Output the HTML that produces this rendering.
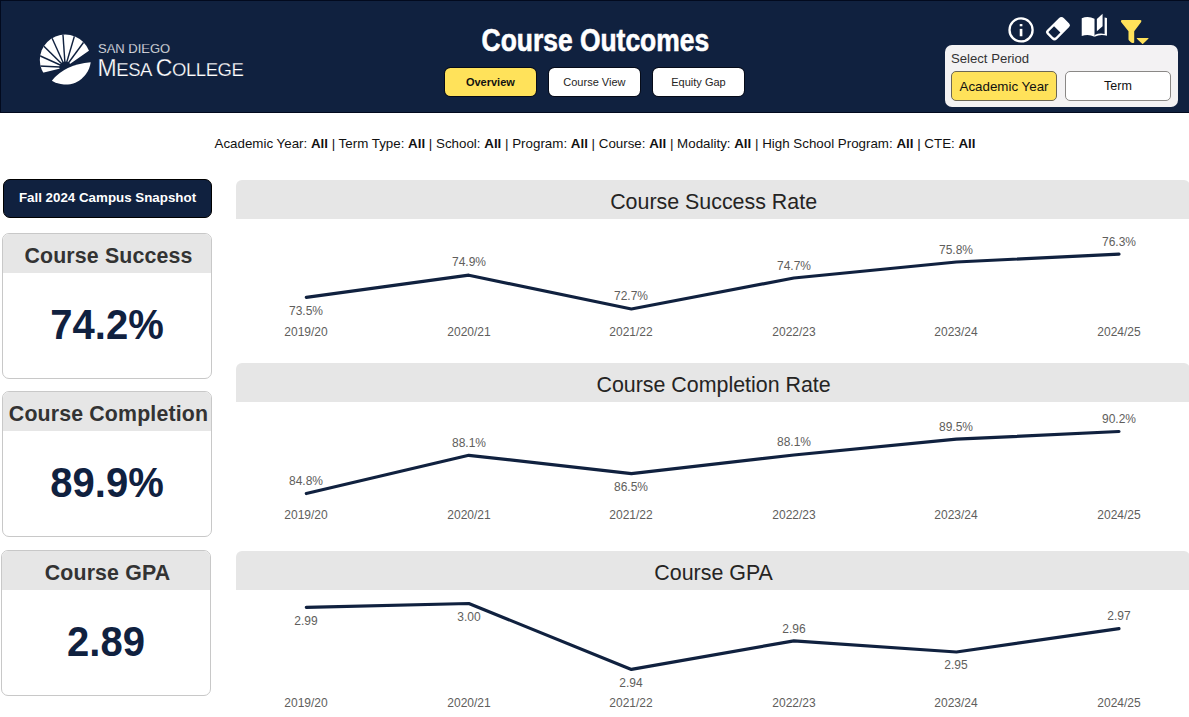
<!DOCTYPE html>
<html>
<head>
<meta charset="utf-8">
<title>Course Outcomes</title>
<style>
html,body{margin:0;padding:0;}
body{width:1189px;height:717px;position:relative;overflow:hidden;background:#fff;font-family:"Liberation Sans",sans-serif;color:#252423;}
.abs{position:absolute;}
#hdr{left:0;top:0;width:1189px;height:113px;background:#10213f;box-sizing:border-box;border:1px solid #020a1e;border-right:none;}
#title{left:445px;top:21px;width:300px;text-align:center;color:#fff;font-weight:bold;font-size:30.5px;line-height:38px;white-space:nowrap;}
#title span{display:inline-block;transform-origin:50% 50%;transform:scaleX(0.866);-webkit-text-stroke:0.6px #fff;}
.nav{top:67.7px;width:91.6px;height:28.6px;box-sizing:border-box;box-shadow:0 0 0 1px #060b18;border-radius:5.5px;background:#fff;color:#252423;font-size:11px;line-height:29.6px;text-align:center;}
.nav.on{background:#ffe25a;font-weight:bold;color:#111;}
#period{left:945px;top:45px;width:233px;height:62px;background:#f3f2f3;border-radius:7px;}
#period .lbl{left:6px;top:6px;font-size:13.15px;line-height:16px;color:#333;white-space:nowrap;}
.pbtn{top:26px;height:30px;box-sizing:border-box;border:1px solid #8a8886;border-radius:5px;background:#fff;font-size:14px;line-height:28px;text-align:center;color:#111;white-space:nowrap;}
.pbtn.on{background:#ffe25a;border-color:#6b6654;}
#filters{left:0.5px;top:136px;width:1189px;text-align:center;font-size:13.35px;line-height:16px;color:#111;white-space:nowrap;}
#snap{left:3px;top:179px;width:209px;height:39px;box-sizing:border-box;background:#10213f;border:1px solid #000;border-radius:7px;color:#fff;font-weight:bold;font-size:13.35px;line-height:35px;text-align:center;white-space:nowrap;}
.card{left:2px;width:210px;height:146px;box-sizing:border-box;border:1px solid #c8c8c8;border-radius:7px;background:#fff;overflow:hidden;}
.card .h{left:0;top:0;width:100%;box-sizing:border-box;padding-left:3px;height:39px;background:#e6e6e6;text-align:center;font-weight:bold;font-size:21.33px;line-height:45px;color:#333;white-space:nowrap;letter-spacing:0.15px;}
.card .v{left:0;top:39px;width:100%;height:105px;text-align:center;font-weight:bold;font-size:40px;line-height:105px;color:#10213f;white-space:nowrap;}
.card .v span{display:inline-block;transform:scaleY(1.04);transform-origin:50% 74%;}
.ch{left:236px;width:954px;height:39px;background:#e6e6e6;border-radius:6px 6px 0 0;text-align:center;font-size:21.4px;line-height:44px;color:#252423;box-sizing:border-box;padding-left:1.2px;white-space:nowrap;}
.lg{color:#fff;white-space:nowrap;-webkit-text-stroke:0.25px #10213f;}
svg text{font-family:"Liberation Sans",sans-serif;}
</style>
</head>
<body>
<div id="hdr" class="abs"></div>

<!-- logo -->
<svg class="abs" style="left:34px;top:28px" width="70" height="64" viewBox="0 0 784 717">
  <defs>
    <clipPath id="cc"><circle cx="350" cy="358" r="285"/></clipPath>
  </defs>
  <g clip-path="url(#cc)">
    <path d="M350,440 L100,500 L-200,560 L-200,-200 L900,-200 L900,60 L615,255 Z" fill="#fff"/>
    <g stroke="#10213f" stroke-width="16" stroke-linecap="butt">
      <line x1="350" y1="440" x2="20" y2="424"/>
      <line x1="350" y1="440" x2="20" y2="290"/>
      <line x1="350" y1="440" x2="60" y2="155"/>
      <line x1="350" y1="440" x2="180" y2="65"/>
      <line x1="350" y1="440" x2="322" y2="40"/>
      <line x1="350" y1="440" x2="462" y2="60"/>
      <line x1="350" y1="440" x2="585" y2="120"/>
    </g>
    <circle cx="350" cy="440" r="66" fill="#10213f"/>
  </g>
  <path d="M200,590 Q350,408 635,385 A285,285 0 0 1 200,590 Z" fill="#fff"/>
</svg>
<div class="abs lg" style="left:98px;top:42px;font-size:13px;line-height:14px;">SAN DIEGO</div>
<div class="abs lg" style="left:97.5px;top:55px;font-size:18.5px;line-height:26px;letter-spacing:-0.42px;"><span style="font-size:23px">M</span>ESA <span style="font-size:23px">C</span>OLLEGE</div>

<div id="title" class="abs"><span>Course Outcomes</span></div>
<div class="abs nav on" style="left:444.6px">Overview</div>
<div class="abs nav" style="left:548.6px">Course View</div>
<div class="abs nav" style="left:652.7px">Equity Gap</div>

<!-- icons -->
<svg class="abs" style="left:1003px;top:10px" width="72" height="40" viewBox="0 0 1189 661">
  <circle cx="298" cy="329" r="191" fill="none" stroke="#fff" stroke-width="38"/>
  <rect x="276" y="232" width="44" height="37" fill="#fff"/>
  <rect x="276" y="312" width="44" height="122" fill="#fff"/>
  <g transform="translate(907.5,309) rotate(-45)">
    <path d="M-150.5,-111.5 L132.5,-111.5 A60,60 0 0 1 192.5,-51.5 L192.5,69.5 A42,42 0 0 1 150.5,111.5 L-132.5,111.5 A60,60 0 0 1 -192.5,51.5 L-192.5,-69.5 A42,42 0 0 1 -150.5,-111.5 Z" fill="#fff"/>
    <path d="M-16.5,-73.5 L-139.5,-73.5 Q-154.5,-73.5 -154.5,-58.5 L-154.5,38.5 Q-154.5,73.5 -119.5,73.5 L-16.5,73.5 Z" fill="#10213f"/>
  </g>
</svg>
<svg class="abs" style="left:1075px;top:8px" width="80" height="44" viewBox="0 0 1189 654">
  <path d="M100,152 Q195,112 290,160 L290,427 Q195,380 100,418 Z" fill="#fff"/>
  <path d="M290,400 Q370,366 440,386 L440,140 L475,150 L475,414 Q385,380 290,427 Z" fill="#fff"/>
  <path d="M325,165 L410,85 L410,270 L325,345 Z" fill="#fff"/>
  <path d="M702,180 L968,180 Q998,182 981,210 L880,347 L880,512 Q852,532 830,510 L803,483 Q795,475 795,460 L795,347 L688,210 Q670,182 702,180 Z" fill="#ffe25a"/>
  <path d="M922,447 L1088,447 Q1098,448 1090,458 L1012,532 Q1005,538 998,532 L920,458 Q912,448 922,447 Z" fill="#ffe25a"/>
</svg>

<div id="period" class="abs">
  <div class="abs lbl">Select Period</div>
  <div class="abs pbtn on" style="left:6px;width:106px;font-size:13.35px;line-height:29px">Academic Year</div>
  <div class="abs pbtn" style="left:120px;width:106px;font-size:12.5px;line-height:28px">Term</div>
</div>

<div id="filters" class="abs">Academic Year: <b>All</b> | Term Type: <b>All</b> | School: <b>All</b> | Program: <b>All</b> | Course: <b>All</b> | Modality: <b>All</b> | High School Program: <b>All</b> | CTE: <b>All</b></div>

<div id="snap" class="abs">Fall 2024 Campus Snapshot</div>

<div class="abs card" style="top:233px"><div class="abs h">Course Success</div><div class="abs v"><span>74.2%</span></div></div>
<div class="abs card" style="top:391px"><div class="abs h">Course Completion</div><div class="abs v"><span>89.9%</span></div></div>
<div class="abs card" style="top:550px;left:1px"><div class="abs h">Course GPA</div><div class="abs v"><span>2.89</span></div></div>

<div class="abs ch" style="top:180px">Course Success Rate</div>
<div class="abs ch" style="top:363px">Course Completion Rate</div>
<div class="abs ch" style="top:551px">Course GPA</div>

<svg class="abs" style="left:0;top:0" width="1189" height="717" viewBox="0 0 1189 717">
  <g fill="none" stroke="#10213f" stroke-width="3.2" stroke-linejoin="round" stroke-linecap="round">
    <polyline points="306.3,297.3 468.8,275.2 631.4,309 793.9,278 956.4,262 1119,254.1"/>
    <polyline points="306.3,493.5 468.8,455.3 631.4,473.6 793.9,455 956.4,439.2 1119,431.5"/>
    <polyline points="306.3,607.3 468.8,603.5 631.4,669.4 793.9,640.9 956.4,652 1119,628.7"/>
  </g>
  <g font-size="12" fill="#605e5c" text-anchor="middle">
    <text x="306" y="315">73.5%</text>
    <text x="469" y="266">74.9%</text>
    <text x="631" y="300">72.7%</text>
    <text x="794" y="270">74.7%</text>
    <text x="956" y="254">75.8%</text>
    <text x="1119" y="246">76.3%</text>

    <text x="306" y="485">84.8%</text>
    <text x="469" y="447">88.1%</text>
    <text x="631" y="491">86.5%</text>
    <text x="794" y="446">88.1%</text>
    <text x="956" y="431">89.5%</text>
    <text x="1119" y="423">90.2%</text>

    <text x="306" y="625">2.99</text>
    <text x="469" y="621">3.00</text>
    <text x="631" y="687">2.94</text>
    <text x="794" y="633">2.96</text>
    <text x="956" y="669">2.95</text>
    <text x="1119" y="620">2.97</text>
  </g>
  <g font-size="12" fill="#605e5c" text-anchor="middle">
    <text x="306" y="336">2019/20</text><text x="469" y="336">2020/21</text><text x="631" y="336">2021/22</text><text x="794" y="336">2022/23</text><text x="956" y="336">2023/24</text><text x="1119" y="336">2024/25</text>
    <text x="306" y="519">2019/20</text><text x="469" y="519">2020/21</text><text x="631" y="519">2021/22</text><text x="794" y="519">2022/23</text><text x="956" y="519">2023/24</text><text x="1119" y="519">2024/25</text>
    <text x="306" y="707">2019/20</text><text x="469" y="707">2020/21</text><text x="631" y="707">2021/22</text><text x="794" y="707">2022/23</text><text x="956" y="707">2023/24</text><text x="1119" y="707">2024/25</text>
  </g>
</svg>
</body>
</html>
